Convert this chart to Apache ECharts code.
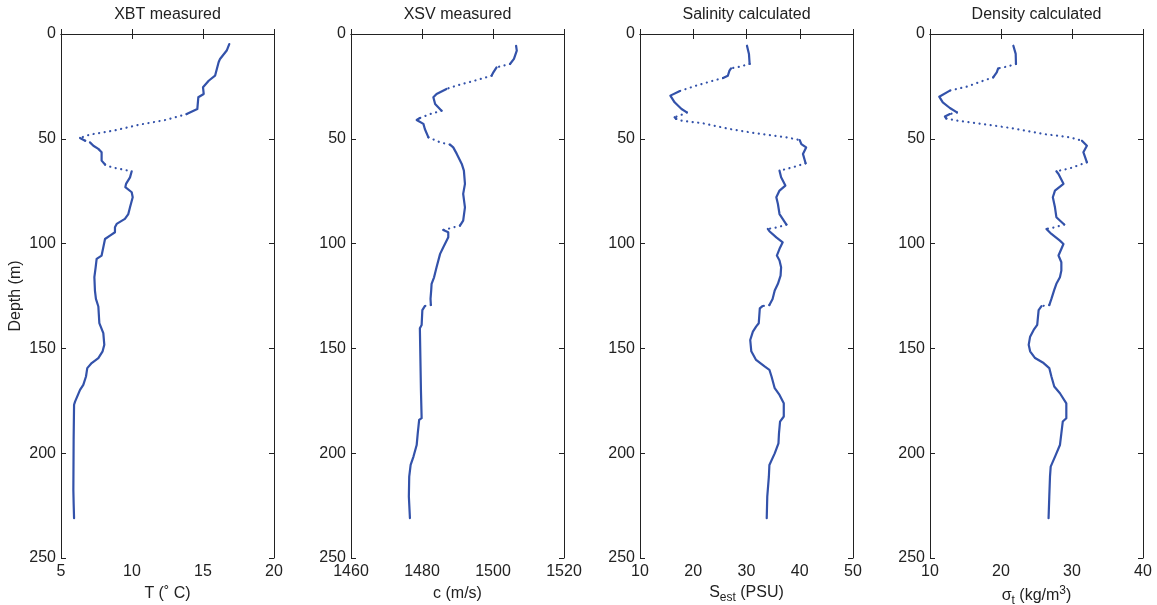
<!DOCTYPE html>
<html>
<head>
<meta charset="utf-8">
<script src="https://cdn.jsdelivr.net/npm/echarts@6/dist/echarts.min.js"></script>
<style>
  html, body { margin: 0; padding: 0; background: #fff; }
  #chart { width: 1157px; height: 605px; }
</style>
</head>
<body>
<div id="chart"></div>
<script>
// profiles: depth (m) and value
const xbtDepth = [4.8, 7.9, 11.9, 13.5, 19.9, 22.3, 25.4, 28.6, 30.2, 35.8, 38.2, 40.9, 43.2, 46.1, 48, 49.6, 50.9, 51.7, 53.3, 54.8, 56.4, 60.4, 62.3, 63.6, 65.5, 66, 68.4, 71.5, 73.1, 75.5, 77.9, 82.7, 85.9, 88.2, 90.6, 92.2, 94.6, 96.2, 97.8, 101.7, 105.7, 107.3, 111.3, 116, 122.4, 126.4, 130, 137.9, 142.7, 148.3, 151.4, 154.6, 157, 159.4, 163.4, 167.4, 169.8, 175.4, 176.9, 193.6, 217.5, 223.8, 231];
const xbtTemp = [16.85, 16.67, 16.2, 16.1, 15.85, 15.4, 15.0, 15.05, 14.67, 14.6, 13.85, 12.44, 10.56, 8.7, 7.04, 6.34, 6.7, 7.04, 7.28, 7.63, 7.86, 7.86, 8.1, 8.57, 9.98, 10.05, 9.86, 9.58, 9.53, 9.98, 10.05, 9.86, 9.74, 9.5, 8.92, 8.8, 8.8, 8.45, 8.1, 7.98, 7.86, 7.51, 7.44, 7.35, 7.39, 7.46, 7.63, 7.7, 7.98, 8.05, 7.93, 7.63, 7.16, 6.85, 6.76, 6.57, 6.34, 5.99, 5.92, 5.89, 5.87, 5.89, 5.92];

const xsvDepth = [5.6, 7.9, 11.9, 14.3, 15.1, 15.9, 18.3, 19.9, 22, 24.6, 26.2, 28.6, 30.2, 33.4, 36.6, 38.2, 40.1, 41, 42.9, 45.3, 49.3, 51.7, 52.8, 54.1, 57.2, 62, 65.2, 71.5, 76.3, 82.7, 89, 91.4, 92.7, 93.5, 94.6, 97, 101.7, 104.9, 111.3, 116.1, 119.2, 122.1, 126.4, 129.3, 129.8, 131.7, 138.8, 140.4, 169.8, 183.3, 184.1, 190.5, 196.1, 201.6, 205.6, 211.2, 220.7, 231];
const xsvSpeed = [1506.5, 1506.7, 1505.9, 1504.8, 1502.9, 1501.0, 1500.1, 1499.6, 1495.4, 1489.8, 1486.9, 1484.1, 1483.2, 1483.7, 1485.5, 1482.3, 1479.4, 1478.5, 1480.4, 1480.8, 1481.8, 1485.1, 1487.9, 1488.8, 1489.8, 1491.2, 1491.8, 1492.1, 1491.6, 1492.1, 1491.6, 1490.7, 1487.9, 1486.0, 1487.4, 1487.4, 1486.0, 1485.1, 1484.1, 1483.4, 1482.7, 1482.6, 1482.4, 1482.5, 1480.8, 1480.1, 1479.9, 1479.4, 1479.7, 1479.9, 1479.2, 1478.8, 1478.5, 1477.6, 1476.8, 1476.4, 1476.3, 1476.6];

const salDepth = [5.6, 9.5, 14.3, 15.6, 16.4, 17.5, 19.9, 21, 22.3, 24.6, 27.3, 29.4, 32.6, 35.8, 37.4, 39, 39.7, 40.5, 41.3, 42.6, 45.3, 47.4, 49.3, 50.6, 52.5, 54.1, 57.2, 61.7, 63.6, 65.2, 66, 68.4, 72.3, 74.7, 77.9, 81.1, 85.9, 90.9, 92.2, 93, 94.1, 97, 99.4, 102.5, 105.7, 108.1, 111.3, 115.3, 119.2, 122.4, 126.4, 129.3, 129.8, 130.9, 138, 139.6, 142, 146, 151.4, 155.5, 158.6, 160.2, 163.4, 169, 172.2, 176.2, 182.5, 184.9, 190.5, 195.3, 200.1, 205.6, 211.2, 220.7, 231];
const salValue = [30.09, 30.46, 30.59, 28.7, 27.1, 26.8, 26.5, 25.6, 23.7, 20.6, 17.4, 15.7, 16.5, 17.8, 18.8, 17.4, 16.5, 16.8, 17.6, 21.8, 26.8, 31.8, 37.5, 40.0, 40.3, 41.2, 40.6, 41.1, 38.7, 36.2, 35.9, 36.5, 37.3, 36.2, 35.6, 35.9, 36.2, 37.5, 35.9, 34.0, 34.3, 35.6, 36.8, 36.2, 35.7, 36.2, 36.5, 36.4, 35.9, 35.3, 34.9, 34.3, 33.0, 32.5, 32.3, 31.8, 31.2, 30.7, 30.9, 31.8, 33.4, 34.3, 34.7, 35.3, 36.2, 37.0, 37.0, 36.3, 36.1, 36.0, 35.3, 34.3, 34.2, 33.9, 33.8];

const denDepth = [5.6, 9.5, 14.3, 15.6, 16.4, 18.3, 20.7, 22.3, 25.1, 27, 29.9, 32.6, 35.3, 37.4, 38.2, 39.4, 40.3, 41.3, 42.6, 44.8, 47.7, 49.3, 50.9, 53.3, 56.4, 61.2, 64.1, 65.5, 66.8, 71.5, 74.7, 77.9, 82.7, 87.4, 90.9, 92.2, 93, 95.4, 98.6, 100.2, 105.7, 108.9, 112.9, 116.1, 119.2, 122.1, 126.4, 129.3, 129.8, 131.7, 138.8, 141.2, 144.4, 148.3, 151.4, 154.6, 157, 159.4, 163.4, 168.2, 171.4, 176.2, 183.3, 184.9, 190.5, 196.1, 200.9, 206.4, 211.2, 220.7, 231];
const denValue = [21.74, 22.07, 22.11, 20.8, 19.6, 19.4, 18.9, 17.5, 15.2, 12.8, 11.3, 11.8, 12.8, 13.8, 12.8, 12.1, 12.3, 13.8, 16.6, 21.3, 26.0, 29.7, 31.4, 32.1, 31.6, 32.1, 29.7, 27.8, 28.1, 28.8, 27.6, 27.3, 27.6, 27.8, 28.9, 27.6, 26.4, 27.1, 28.3, 28.8, 28.1, 28.5, 28.5, 28.3, 27.8, 27.5, 27.1, 26.8, 25.7, 25.3, 25.1, 24.6, 24.1, 23.9, 24.1, 24.8, 26.0, 26.8, 27.1, 27.5, 28.3, 29.2, 29.2, 28.7, 28.5, 28.3, 27.7, 27.0, 26.9, 26.8, 26.7];

const titles = ['XBT measured', 'XSV measured', 'Salinity calculated', 'Density calculated'];
const xRanges = [[5, 20, 5], [1460, 1520, 20], [10, 50, 10], [10, 40, 10]];
const depthTicks = [0, 250, 50];

const gridLefts = [61, 351, 640, 930];
const gridTop = 34, gridW = 213, gridH = 524;
const lineColor = '#3352aa';
const ink = '#222';
const font = 'Liberation Sans, Arial, sans-serif';

const panels = [
  { depth: xbtDepth, val: xbtTemp, name: 'T (\u02DA C)', gap: 28 },
  { depth: xsvDepth, val: xsvSpeed, name: 'c (m/s)', gap: 28 },
  { depth: salDepth, val: salValue, name: '{n|S}{sub|est}{n| (PSU)}', gap: 14 },
  { depth: denDepth, val: denValue, name: '{n|\u03C3}{sub|t}{n| (kg/m}{sup|3}{n|)}', gap: 14 }
];

// split a profile into a solid part and a sparse (dotted) part where it runs sideways
function splitProfile(depth, val, range) {
  const pxX = gridW / (range[1] - range[0]);
  const pxY = gridH / (depthTicks[1] - depthTicks[0]);
  const gap = ['-', '-'];
  const solid = [], dotted = [];
  let prevSteep = false;
  for (let i = 0; i < depth.length; i++) {
    solid.push([val[i], depth[i]]);
    if (i === depth.length - 1) break;
    const dx = Math.abs(val[i + 1] - val[i]) * pxX;
    const dy = Math.abs(depth[i + 1] - depth[i]) * pxY;
    const steep = dx > 2.2 * dy;
    if (steep) {
      solid.push(gap);
      if (!prevSteep) {
        if (dotted.length) dotted.push(gap);
        dotted.push([val[i], depth[i]]);
      }
      dotted.push([val[i + 1], depth[i + 1]]);
    }
    prevSteep = steep;
  }
  return { solid, dotted };
}

const grid = [], xAxis = [], yAxis = [], series = [], title = [];

panels.forEach((p, k) => {
  const r = xRanges[k];
  grid.push({ left: gridLefts[k], top: gridTop, width: gridW, height: gridH, outerBoundsMode: 'none', containLabel: false });
  title.push({
    text: titles[k], left: gridLefts[k] + gridW / 2, top: 7, textAlign: 'center', padding: 0,
    textStyle: { fontSize: 16, fontWeight: 'normal', color: ink, fontFamily: font }
  });
  const axisCommon = {
    axisLine: { show: true, lineStyle: { color: ink, width: 1 } },
    axisTick: { show: true, inside: true, length: 5, lineStyle: { color: ink } },
    splitLine: { show: false }
  };
  xAxis.push(Object.assign({
    type: 'value', gridIndex: k, position: 'bottom', min: r[0], max: r[1], interval: r[2],
    axisLabel: { fontSize: 16, color: ink, fontFamily: font, margin: 6, showMinLabel: true, showMaxLabel: true,
      formatter: v => String(v) },
    name: p.name, nameLocation: 'middle', nameGap: p.gap,
    nameTextStyle: {
      fontSize: 16, color: ink, fontFamily: font,
      rich: {
        n: { fontSize: 16, color: ink, fontFamily: font },
        sub: { fontSize: 12, color: ink, fontFamily: font, padding: [10, 0, 0, 0] },
        sup: { fontSize: 12, color: ink, fontFamily: font, padding: [0, 0, 9, 0] }
      }
    }
  }, axisCommon));
  xAxis.push(Object.assign({
    type: 'value', gridIndex: k, position: 'top', min: r[0], max: r[1], interval: r[2],
    axisLabel: { show: false }
  }, axisCommon));
  yAxis.push(Object.assign({
    type: 'value', gridIndex: k, position: 'left', inverse: true,
    min: depthTicks[0], max: depthTicks[1], interval: depthTicks[2],
    axisLabel: { fontSize: 16, color: ink, fontFamily: font, margin: 5 },
    name: k === 0 ? 'Depth (m)' : '', nameLocation: 'middle', nameRotate: 90, nameGap: 37,
    nameTextStyle: { fontSize: 16, color: ink, fontFamily: font }
  }, axisCommon));
  yAxis.push(Object.assign({
    type: 'value', gridIndex: k, position: 'right', inverse: true,
    min: depthTicks[0], max: depthTicks[1], interval: depthTicks[2],
    axisLabel: { show: false }
  }, axisCommon));

  const parts = splitProfile(p.depth, p.val, r);
  series.push({
    type: 'line', xAxisIndex: 2 * k, yAxisIndex: 2 * k, data: parts.solid,
    showSymbol: false, connectNulls: false, animation: false, silent: true,
    lineStyle: { color: lineColor, width: 2.2, cap: 'round', join: 'round' }
  });
  series.push({
    type: 'line', xAxisIndex: 2 * k, yAxisIndex: 2 * k, data: parts.dotted,
    showSymbol: false, connectNulls: false, animation: false, silent: true,
    lineStyle: { color: lineColor, width: 2.2, type: [0.1, 5.5], cap: 'round' }
  });
});

const chart = echarts.init(document.getElementById('chart'), null, { renderer: 'canvas' });
chart.setOption({
  backgroundColor: '#fff',
  animation: false,
  title, grid, xAxis, yAxis, series
});
</script>
</body>
</html>
